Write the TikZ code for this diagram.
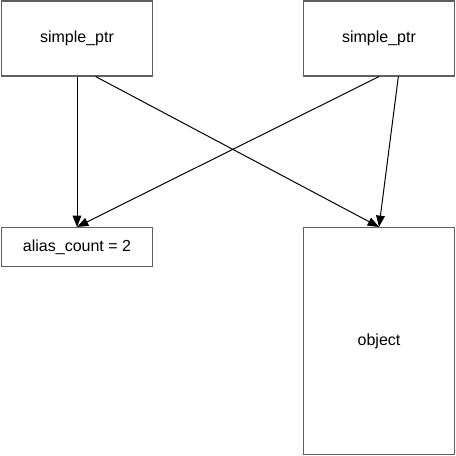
\documentclass[tikz,border=0pt]{standalone}
\usepackage{fontspec}
\setmainfont{Liberation Sans}
\usepackage{xcolor}
\usetikzlibrary{arrows.meta}
\definecolor{boxgray}{RGB}{95,95,95}

\begin{document}
\begin{tikzpicture}[x=0.75pt,y=-0.75pt]
\tikzset{box/.style={draw=boxgray,line width=1.1pt,minimum width=113pt,inner sep=0pt,font=\fontsize{12}{14}\selectfont}}
\tikzset{link/.style={-{Triangle[length=8.5pt,width=6.5pt]},line width=0.75pt}}

\useasboundingbox (0,0) rectangle (456,456);

\node[box,minimum height=56pt] (ptrA) at (77,38.5) {simple\_ptr};
\node[box,minimum height=56pt] (ptrB) at (379,38.5) {simple\_ptr};
\node[box,minimum height=29pt] (count) at (77,247) {alias\_count = 2};
\node[box,minimum height=170pt] (obj) at (379,341) {object};

\draw[link] (ptrA.south) -- (count.north);
\draw[link] ([xshift=14pt]ptrA.south) -- (obj.north);
\draw[link] (ptrB.south) -- (count.north);
\draw[link] ([xshift=14.5pt]ptrB.south) -- (obj.north);

\end{tikzpicture}
\end{document}
